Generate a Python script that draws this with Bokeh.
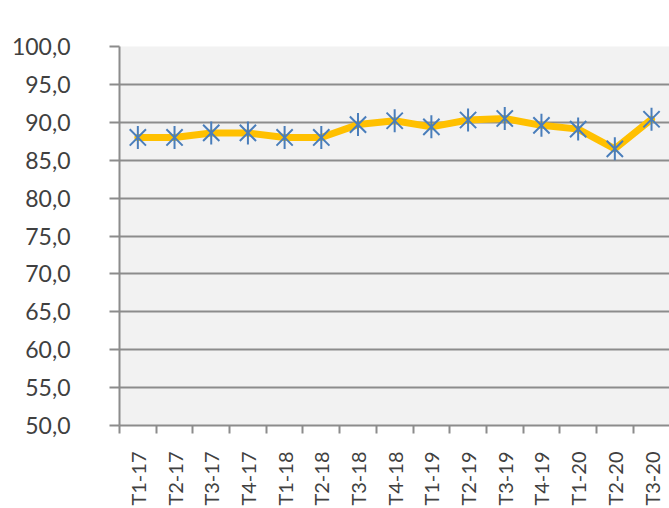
import math
from bokeh.plotting import figure
from bokeh.models import Range1d, FixedTicker
from bokeh.embed import file_html
from bokeh.resources import INLINE

# ---- data ----
categories = ["T1-17", "T2-17", "T3-17", "T4-17", "T1-18", "T2-18", "T3-18", "T4-18",
              "T1-19", "T2-19", "T3-19", "T4-19", "T1-20", "T2-20", "T3-20"]
values = [88.0, 88.0, 88.6, 88.6, 88.0, 88.0, 89.7, 90.2,
          89.4, 90.3, 90.5, 89.6, 89.1, 86.5, 90.4]
y_ticks = [50, 55, 60, 65, 70, 75, 80, 85, 90, 95, 100]
y_tick_labels = ["50,0", "55,0", "60,0", "65,0", "70,0", "75,0", "80,0", "85,0", "90,0", "95,0", "100,0"]

xs = [i + 0.5 for i in range(len(categories))]
boundaries = list(range(len(categories) + 1))

FONT = "Lato"
GRAY = "#8C8C8C"
TEXT = "#404040"

p = figure(width=669, height=508, output_backend="svg", toolbar_location=None,
           x_range=Range1d(0, 14.99), y_range=Range1d(50, 100),
           min_border_left=119, min_border_top=46, min_border_bottom=81, min_border_right=0)
p.outline_line_color = None
p.background_fill_color = "#F2F2F2"
p.border_fill_color = "white"

# grid
p.xgrid.grid_line_color = None
p.ygrid.ticker = FixedTicker(ticks=y_ticks)
p.ygrid.grid_line_color = GRAY
p.ygrid.grid_line_width = 2

# y axis
ya = p.yaxis[0]
ya.ticker = FixedTicker(ticks=y_ticks)
ya.major_label_overrides = {t: l for t, l in zip(y_ticks, y_tick_labels)}
ya.axis_line_color = GRAY
ya.axis_line_width = 2
ya.major_tick_line_color = GRAY
ya.major_tick_line_width = 2
ya.major_tick_out = 10
ya.major_tick_in = 0
ya.minor_tick_line_color = None
ya.major_label_standoff = 39
ya.major_label_text_font = FONT
ya.major_label_text_font_size = "23px"
ya.major_label_text_color = TEXT

# x axis: ticks at category boundaries, labels at category centres
xa = p.xaxis[0]
xa.ticker = FixedTicker(ticks=xs, minor_ticks=boundaries)
xa.major_label_overrides = {x: c for x, c in zip(xs, categories)}
xa.major_label_orientation = math.pi / 2
xa.axis_line_color = GRAY
xa.axis_line_width = 2
xa.major_tick_line_color = None
xa.major_tick_out = 0
xa.major_tick_in = 0
xa.minor_tick_line_color = GRAY
xa.minor_tick_line_width = 2
xa.minor_tick_out = 8
xa.minor_tick_in = 0
xa.major_label_standoff = 18
xa.major_label_text_font = FONT
xa.major_label_text_font_size = "20px"
xa.major_label_text_color = TEXT

# series
p.line(xs, values, line_color="#FFC000", line_width=7, line_join="round", line_cap="round")
p.scatter(xs, values, marker="x", size=23, line_color="#4A7EBB", line_width=2)
p.scatter(xs, values, marker="dash", angle=math.pi / 2, size=23, line_color="#4A7EBB", line_width=2)

open("out.html", "w").write(file_html(p, INLINE))
